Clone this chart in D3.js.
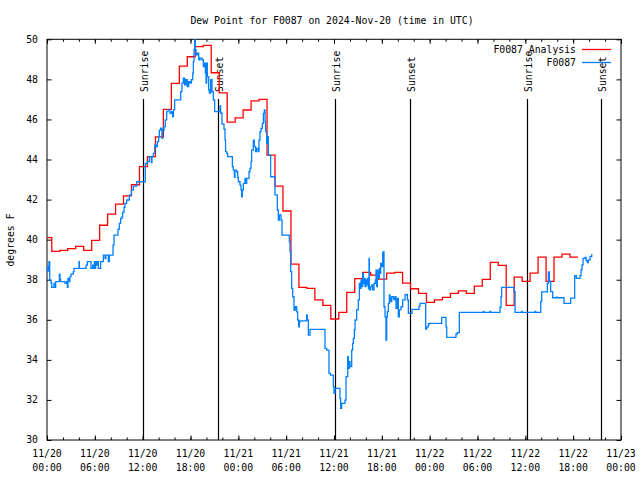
<!DOCTYPE html>
<html><head><meta charset="utf-8">
<script src="https://cdn.jsdelivr.net/npm/d3@7"></script>
<style>body{margin:0;background:#fff}svg{display:block}</style>
</head><body>
<svg id="c" width="640" height="480"></svg>
<script>
const chartTitle = "Dew Point for F0087 on 2024-Nov-20 (time in UTC)";
const yAxisLabel = "degrees F";
const seriesNames = ["F0087 Analysis", "F0087"];
const seriesColors = ["#ff0000", "#0080ff"];
const xStart = "2024-11-20T00:00:00Z";
const xEnd = "2024-11-23T00:00:00Z";
const yTicks = [30, 32, 34, 36, 38, 40, 42, 44, 46, 48, 50];
// sunrise / sunset, hours after 11/20 00:00 UTC
const sunHours = [12.08, 21.49, 36.16, 45.57, 60.25, 69.53];
const sunLabels = ["Sunrise", "Sunset", "Sunrise", "Sunset", "Sunrise", "Sunset"];
// hourly analysis values; first step begins at -0.4 h
const analysisFirstHour = -0.4;
const analysisValues = [40.10, 39.41, 39.46, 39.55, 39.66, 39.46, 39.96, 40.72, 41.27, 41.77,
  42.18, 42.74, 43.64, 44.14, 45.13, 46.50, 47.80, 48.66, 49.13, 49.63,
  49.70, 48.33, 47.33, 45.87, 46.08, 46.47, 46.93, 47.00, 44.22, 42.67,
  41.43, 38.78, 37.62, 37.57, 36.99, 36.72, 36.04, 36.37, 37.37, 38.05,
  38.37, 38.23, 38.03, 38.33, 38.37, 37.83, 37.55, 37.32, 36.87, 36.99,
  37.12, 37.32, 37.44, 37.32, 37.68, 38.02, 38.87, 38.72, 36.72, 38.13,
  37.92, 38.33, 39.13, 37.92, 39.13, 39.28, 39.13];
// observations: hours after 11/20 00:00 UTC and dew point (F)
const obsHours = [0, 0.1, 0.17, 0.25, 0.34, 0.5, 0.59, 0.88, 0.96, 1.09, 1.55, 1.63, 1.71, 2.26, 2.47, 2.55, 2.63, 2.8, 2.88, 3.01,
  3.3, 3.39, 4.01, 4.06, 4.9, 5.06, 5.52, 5.73, 5.81, 5.94, 6.02, 6.1, 6.23, 6.31, 6.44, 6.73, 7.07, 7.28, 7.4, 7.7,
  7.82, 8.28, 8.41, 8.9, 9.07, 9.24, 9.41, 9.49, 9.66, 9.78, 9.99,
  10.33, 10.58, 10.83, 11.25, 12.33, 12.59, 12.84, 13.09, 13.17, 13.34, 13.51, 13.67, 13.84, 14.01, 14.09, 14.26, 14.42, 14.51, 14.68,
  14.84, 15.01, 15.18, 15.43, 15.64, 15.76, 15.85, 16.01, 16.77, 16.93, 17.1, 17.27, 17.44, 17.6, 17.77, 17.94, 18.11, 18.28, 18.36, 18.44,
  18.53, 18.61, 18.69, 18.86, 19.03, 19.19, 19.44, 19.61, 19.78, 19.86, 19.95, 20.03, 20.11, 20.28, 20.36, 20.53, 20.7, 20.86, 21.03, 21.7,
  21.78, 21.95, 22.2,
  22.33, 22.4, 22.54, 22.66, 23.25, 23.37, 23.5, 23.58, 23.79, 23.92, 24.0, 24.21, 24.33, 24.42, 24.5, 24.63, 24.84, 24.92, 25.05, 25.34,
  25.46, 25.59, 25.67, 25.88, 26.01, 26.17, 26.3, 26.51, 26.59, 26.72, 26.84, 27.01, 27.14, 27.26, 27.35, 27.43, 27.55, 27.64, 27.76, 28.05,
  28.6, 28.89, 29.02, 29.14, 29.35,
  29.48, 30.40, 30.48, 30.57, 30.69, 30.82, 30.98, 31.15, 31.32, 31.44, 31.57, 31.65, 31.74,
  32.57, 32.65, 32.78, 32.99, 34.87, 35.08, 35.37, 35.55, 35.92, 36.0, 36.13, 36.75, 36.84, 36.96, 37.38, 37.51, 37.72, 37.8, 37.93, 38.01,
  38.22, 38.34, 38.43, 38.55, 38.64, 38.84, 39.05, 39.18, 39.26, 39.39, 39.47, 39.6, 39.68, 39.81, 39.89, 40.01, 40.1, 40.18, 40.31, 40.39,
  40.43, 40.6, 40.73, 40.85, 41.02, 41.19, 41.27, 41.36, 41.44, 41.52, 41.69, 41.77, 41.86, 41.98, 42.11, 42.19, 42.27, 42.4, 42.52, 42.61,
  42.69, 42.82, 42.94, 43.03, 43.11, 43.24, 43.45, 43.53, 43.65, 43.78, 43.95, 44.07, 44.2,
  44.4, 44.61, 44.91, 45.03, 45.2, 45.33, 45.79, 46.66, 46.79, 47.5, 47.63, 47.83, 47.96, 49.51, 50.05, 50.14, 51.3, 51.47, 51.72, 54.73,
  54.8, 55.57, 55.65, 56.82, 56.95, 57.03, 58.58, 58.71, 59.54, 59.6, 61.21, 61.3, 61.93, 62.05, 62.76, 62.89, 63.01, 63.18, 63.43, 63.93,
  64.0, 64.85, 65.69, 66.19, 66.4, 66.86, 66.99, 67.11, 67.24, 67.49, 67.62, 67.79, 67.91, 68.12, 68.33];
const obsValues = [38.43, 38.65, 38.43, 38.9, 37.98, 37.85, 37.62, 37.82, 37.62, 37.9, 38.28, 38.02, 37.9, 37.82, 37.9, 37.62, 38.07, 37.9, 38.15, 38.28,
  38.40, 38.57, 38.9, 38.57, 38.73, 38.9, 38.57, 38.73, 38.57, 38.9, 38.57, 38.9, 38.73, 38.9, 38.57, 38.9, 39.23, 39.05, 39.23, 38.9,
  39.23, 39.73, 40.23, 40.51, 40.81, 41.06, 41.14, 41.36, 41.61, 41.81, 41.98,
  42.22, 42.47, 42.67, 42.89, 43.80, 43.89, 44.14, 43.84, 44.14, 44.31, 44.72, 44.64, 44.89, 45.14, 45.47, 45.56, 45.06, 45.47, 45.64,
  45.98, 46.39, 46.48, 46.31, 46.39, 46.14, 46.48, 46.98, 47.39, 47.81, 48.06, 47.73, 47.98, 47.64, 47.89, 47.81, 47.98, 48.31, 48.89, 49.48,
  49.98, 49.48, 49.23, 49.31, 48.98, 49.06, 48.98, 48.64, 48.81, 48.31, 47.81, 48.81, 48.14, 47.48, 47.31, 47.98, 47.39, 46.98, 46.39, 46.68,
  46.31, 45.77, 45.51,
  44.97, 44.39, 44.31, 44.14, 43.64, 43.47, 43.11, 43.47, 43.39, 43.11, 42.89, 42.72, 42.48, 42.14, 42.48, 42.81, 43.06, 42.81, 43.06, 43.39,
  43.56, 43.89, 44.47, 44.97, 44.64, 44.39, 44.55, 44.39, 44.97, 45.39, 45.55, 45.80, 46.30, 46.47, 45.88, 45.39, 44.80, 45.14, 44.22, 43.14,
  42.23, 41.48, 40.98, 41.23, 40.98,
  40.23, 39.9, 39.4, 38.4, 37.57, 37.15, 36.48, 36.65, 36.40, 35.99, 35.65, 35.90, 35.95,
  36.24, 35.99, 35.24, 35.52, 34.57, 34.49, 33.33, 33.24, 32.66, 32.33, 32.58, 32.08, 31.58, 31.83, 31.99, 33.16, 34.16, 33.58, 33.91, 33.66,
  34.49, 34.82, 35.07, 35.49, 35.99, 36.49, 36.99, 37.82, 37.57, 37.99, 37.66, 38.32, 37.82, 38.07, 37.66, 37.99, 37.74, 38.07, 37.57, 39.07,
  37.49, 37.66, 37.74, 37.49, 37.82, 37.99, 38.48, 37.66, 38.48, 38.07, 38.57, 38.32, 38.82, 38.65, 39.32, 39.40, 36.65, 36.15, 34.99, 36.15,
  36.41, 36.82, 37.24, 37.07, 36.91, 37.16, 37.07, 36.99, 37.16, 36.57, 37.07, 36.15, 36.49,
  36.65, 36.99, 37.24, 37.27, 36.99, 36.32, 36.52, 36.68, 36.82, 35.54, 35.65, 35.79, 35.82, 36.12, 35.65, 35.12, 35.29, 35.36, 36.37, 36.42,
  36.37, 36.42, 36.37, 36.62, 37.15, 37.62, 37.41, 36.37, 36.42, 36.37, 36.42, 36.37, 36.91, 37.39, 37.82, 38.39, 37.91, 37.41, 37.1, 37.13,
  37.1, 36.82, 37.08, 38.2, 38.07, 38.2, 38.49, 38.74, 39.07, 39.12, 38.95, 38.85, 38.99, 39.15, 39.28];

const HOUR = 3600e3;
const t0 = new Date(xStart).getTime();
const hToDate = h => new Date(t0 + h * HOUR);

const W = 640, H = 480;
const m = {left: 47, right: 621, top: 39.3, bottom: 440};
const FONT = "'DejaVu Sans Mono', 'Liberation Mono', monospace";

const svg = d3.select("#c");
svg.append("rect").attr("width", W).attr("height", H).attr("fill", "#fff");

const x = d3.scaleUtc().domain([new Date(xStart), new Date(xEnd)]).range([m.left, m.right]);
const y = d3.scaleLinear().domain([30, 50]).range([m.bottom, m.top]);

svg.append("defs").append("clipPath").attr("id", "clip")
  .append("rect").attr("x", m.left).attr("y", m.top)
  .attr("width", m.right - m.left).attr("height", m.bottom - m.top);

// title
svg.append("text").attr("x", 332).attr("y", 23.5).attr("text-anchor", "middle")
  .style("font-family", FONT).style("font-size", "9.8px").text(chartTitle);

// y label
svg.append("text").attr("transform", "translate(14,240) rotate(-90)")
  .attr("text-anchor", "middle").style("font-family", FONT).style("font-size", "9.8px").text(yAxisLabel);

// axes (gnuplot style: inward ticks on all sides)
const endPlus = new Date(new Date(xEnd).getTime() + 1);
const majorTicks = d3.utcHour.every(6).range(new Date(xStart), endPlus);
const minorTicks = d3.utcHour.every(2).range(new Date(xStart), endPlus);
const fmtDay = d3.utcFormat("%m/%d"), fmtTime = d3.utcFormat("%H:%M");

const axes = svg.append("g");
axes.append("g").attr("transform", `translate(0,${m.bottom})`)
  .call(d3.axisBottom(x).tickValues(minorTicks).tickSizeInner(-2.5).tickSizeOuter(0).tickFormat(""));
axes.append("g").attr("transform", `translate(0,${m.bottom})`)
  .call(d3.axisBottom(x).tickValues(majorTicks).tickSizeInner(-4.5).tickSizeOuter(0).tickFormat(""));
axes.append("g").attr("transform", `translate(0,${m.top})`)
  .call(d3.axisTop(x).tickValues(minorTicks).tickSizeInner(-2.5).tickSizeOuter(0).tickFormat(""));
axes.append("g").attr("transform", `translate(0,${m.top})`)
  .call(d3.axisTop(x).tickValues(majorTicks).tickSizeInner(-4.5).tickSizeOuter(0).tickFormat(""));
axes.append("g").attr("transform", `translate(${m.left},0)`)
  .call(d3.axisLeft(y).tickValues(yTicks).tickSizeInner(-4.5).tickSizeOuter(0).tickFormat(""));
axes.append("g").attr("transform", `translate(${m.right},0)`)
  .call(d3.axisRight(y).tickValues(yTicks).tickSizeInner(-4.5).tickSizeOuter(0).tickFormat(""));
axes.selectAll(".domain").remove();
axes.selectAll(".tick line").attr("stroke", "#000").attr("stroke-width", 1);

// tick labels
const xl = svg.append("g").style("font-family", FONT).style("font-size", "9.8px").attr("text-anchor", "middle");
majorTicks.forEach(d => {
  const t = xl.append("text").attr("x", x(d));
  t.append("tspan").attr("x", x(d)).attr("y", 457).text(fmtDay(d));
  t.append("tspan").attr("x", x(d)).attr("y", 471).text(fmtTime(d));
});
const yl = svg.append("g").style("font-family", FONT).style("font-size", "9.8px").attr("text-anchor", "end");
yTicks.forEach(v => {
  yl.append("text").attr("x", 38).attr("y", y(v)).attr("dy", "0.35em").text(v);
});

// border
svg.append("rect").attr("x", m.left).attr("y", m.top).attr("width", m.right - m.left)
  .attr("height", m.bottom - m.top).attr("fill", "none").attr("stroke", "#000").attr("stroke-width", 1);

// sunrise / sunset
const sg = svg.append("g");
sunHours.forEach((h, i) => {
  const sx = Math.round(x(hToDate(h))) + 0.5;
  sg.append("line").attr("x1", sx).attr("x2", sx).attr("y1", 99).attr("y2", m.bottom)
    .attr("stroke", "#000").attr("stroke-width", 1.2);
  sg.append("text").attr("transform", `translate(${sx + 4},92) rotate(-90)`)
    .style("font-family", FONT).style("font-size", "9.8px").text(sunLabels[i]);
});

// data
const analysis = analysisValues.map((v, i) => ({t: hToDate(analysisFirstHour + i), v}));
analysis.push({t: hToDate(analysisFirstHour + analysisValues.length), v: analysisValues[analysisValues.length - 1]});
const obs = obsHours.map((h, i) => ({t: hToDate(h), v: obsValues[i]}));

const line = d3.line().x(d => x(d.t)).y(d => y(d.v)).curve(d3.curveStepAfter);
const dg = svg.append("g").attr("clip-path", "url(#clip)");
dg.append("path").datum(analysis).attr("d", line).attr("fill", "none")
  .attr("stroke", seriesColors[0]).attr("stroke-width", 1.3);
dg.append("path").datum(obs).attr("d", line).attr("fill", "none")
  .attr("stroke", seriesColors[1]).attr("stroke-width", 1.3);

// legend
const lg = svg.append("g").style("font-family", FONT).style("font-size", "9.8px");
seriesNames.forEach((name, i) => {
  const ly = 49.5 + i * 13;
  lg.append("text").attr("x", 576).attr("y", ly).attr("dy", "0.35em").attr("text-anchor", "end").text(name);
  lg.append("line").attr("x1", 582).attr("x2", 611).attr("y1", ly).attr("y2", ly)
    .attr("stroke", seriesColors[i]).attr("stroke-width", 1.3);
});
</script>
</body></html>
